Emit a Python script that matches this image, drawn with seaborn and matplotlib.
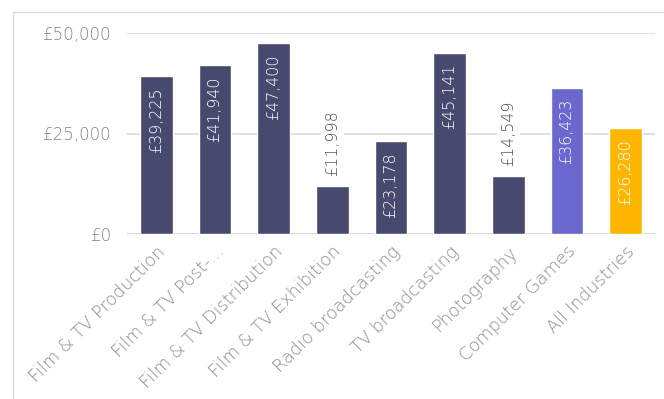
import matplotlib
matplotlib.use("Agg")
import matplotlib.pyplot as plt
import seaborn as sns
import pandas as pd
from matplotlib.lines import Line2D

categories = ["Film & TV Production", "Film & TV Post-...", "Film & TV Distribution",
              "Film & TV Exhibition", "Radio broadcasting", "TV broadcasting",
              "Photography", "Computer Games", "All Industries"]
values = [39225, 41940, 47400, 11998, 23178, 45141, 14549, 36423, 26280]
colors = ["#474A6E"] * 7 + ["#6A67CE", "#FFB600"]
yticks = [0, 25000, 50000]
ytick_labels = ["£0", "£25,000", "£50,000"]

sns.set_theme(style="white")
plt.rcParams['font.family'] = ['DejaVu Sans']
plt.rcParams['font.weight'] = 'light'

df = pd.DataFrame({"cat": categories, "val": values})

fig = plt.figure(figsize=(6.64, 3.99), dpi=100)
# outer frame (left and top)
fig.add_artist(Line2D([13/664, 13/664], [0, 1 - 12/399], color="#d9d9d9", lw=1, transform=fig.transFigure))
fig.add_artist(Line2D([13/664, 1], [1 - 12/399, 1 - 12/399], color="#d9d9d9", lw=1, transform=fig.transFigure))

ax = fig.add_axes([127/664, 1 - 234/399, 528/664, (234 - 33)/399])
sns.barplot(data=df, x="cat", y="val", hue="cat", palette=colors, legend=False,
            width=0.56, ax=ax, saturation=1, zorder=3)
ax.set_xlim(-0.5, 8.5)
ax.set_ylim(0, 50000)
ax.set_yticks(yticks)
ax.set_yticklabels(ytick_labels)
for y in yticks:
    ax.axhline(y, color="#dadada" if y else "#d0d0d0", lw=1.2, zorder=1)
for s in ax.spines.values():
    s.set_visible(False)
ax.set_xlabel("")
ax.set_ylabel("")
ax.tick_params(axis="y", length=0, pad=11, labelsize=12, labelcolor="#808080")
ax.tick_params(axis="x", length=0, pad=6, labelsize=12.8, labelcolor="#8c8c8c")
plt.setp(ax.get_xticklabels(), rotation=45, ha="right", rotation_mode="anchor")

for i, v in enumerate(values):
    txt = f"£{v:,}"
    if v > 20000:
        ax.annotate(txt, (i, v), xytext=(0, -8), textcoords="offset points",
                    rotation=90, ha="center", va="top", color="white", fontsize=11.5, zorder=5)
    else:
        ax.annotate(txt, (i, v), xytext=(0, 7), textcoords="offset points",
                    rotation=90, ha="center", va="bottom", color="#555555", fontsize=11.5, zorder=5,
                    bbox=dict(boxstyle="square,pad=0.25", fc="white", ec="none"))

fig.savefig("out.png", dpi=100)
